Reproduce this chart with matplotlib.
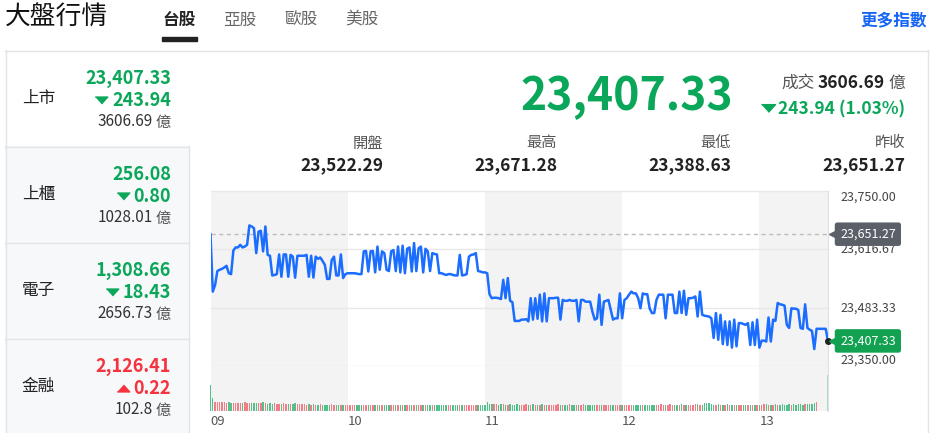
import matplotlib
matplotlib.use('Agg')
import matplotlib.pyplot as plt
from matplotlib.patches import Rectangle
from matplotlib.lines import Line2D
import numpy as np

plt.rcParams['font.family'] = ['Noto Sans CJK TC', 'DejaVu Sans']

# ---------------- data ----------------
prev_close = 23651.27
last_price = 23407.33
open_price = 23522.29
high_price = 23671.28
low_price = 23388.63
change = 243.94
change_pct = 1.03
turnover = 3606.69

stat_labels = ['開盤', '最高', '最低', '昨收']
stat_values = [open_price, high_price, low_price, prev_close]

board_names = ['上市', '上櫃', '電子', '金融']
board_values = [23407.33, 256.08, 1308.66, 2126.41]
board_changes = [243.94, 0.80, 18.43, 0.22]
board_dirs = [-1, -1, -1, 1]
board_amounts = [3606.69, 1028.01, 2656.73, 102.8]

tabs = ['台股', '亞股', '歐股', '美股']

minutes = list(range(271))
prices = [
    23651, 23520, 23535, 23567, 23570, 23572, 23575, 23579, 23562, 23560,
    23614, 23621, 23621, 23627, 23621, 23623, 23627, 23671.28, 23669, 23665,
    23608, 23657, 23659, 23612, 23669, 23604, 23602, 23557, 23558, 23560,
    23605, 23554, 23605, 23605, 23554, 23604, 23600, 23552, 23602, 23602,
    23602, 23602, 23604, 23554, 23602, 23552, 23600, 23595, 23598, 23590,
    23581, 23549, 23549, 23592, 23600, 23557, 23557, 23605, 23551, 23560,
    23562, 23562, 23562, 23562, 23561, 23560, 23560, 23612, 23613, 23566,
    23612, 23613, 23564, 23623, 23570, 23612, 23608, 23570, 23567, 23612,
    23615, 23567, 23623, 23564, 23625, 23562, 23618, 23621, 23566, 23631,
    23567, 23619, 23623, 23564, 23618, 23612, 23567, 23608, 23606, 23605,
    23562, 23562, 23560, 23558, 23560, 23560, 23558, 23557, 23557, 23604,
    23557, 23558, 23560, 23600, 23604, 23605, 23608, 23567, 23566, 23564,
    23564, 23562, 23514, 23505, 23506, 23506, 23505, 23503, 23547, 23505,
    23551, 23499, 23496, 23453, 23453, 23453, 23456, 23456, 23457, 23452,
    23505, 23456, 23505, 23458, 23513, 23452, 23516, 23452, 23505, 23505,
    23505, 23506, 23506, 23456, 23501, 23499, 23499, 23501, 23499, 23499,
    23501, 23452, 23501, 23501, 23497, 23497, 23497, 23474, 23456, 23459,
    23513, 23444, 23497, 23499, 23501, 23478, 23456, 23459, 23459, 23516,
    23459, 23501, 23505, 23513, 23520, 23516, 23516, 23505, 23482, 23516,
    23514, 23514, 23482, 23471, 23471, 23501, 23513, 23513, 23513, 23459,
    23513, 23513, 23513, 23471, 23471, 23520, 23471, 23522, 23467, 23505,
    23505, 23506, 23509, 23463, 23520, 23467, 23465, 23464, 23463, 23459,
    23414, 23471, 23410, 23467, 23400, 23452, 23398, 23452, 23392, 23456,
    23395, 23448, 23448, 23446, 23444, 23448, 23398, 23450, 23398, 23456,
    23392, 23408, 23408, 23406, 23461, 23406, 23456, 23453, 23494, 23491,
    23490, 23488, 23444, 23437, 23482, 23481, 23481, 23478, 23437, 23435,
    23491, 23437, 23433, 23430, 23388.63, 23435, 23435, 23435, 23435, 23435,
    23407.33,
]
volumes = [
    52, 26, 18, 18, 17, 17, 17, 16, 17, 16,
    16, 15, 16, 16, 15, 17, 16, 15, 16, 15,
    15, 16, 15, 17, 16, 14, 15, 14, 15, 14,
    14, 13, 15, 14, 14, 13, 14, 15, 13, 14,
    13, 13, 12, 13, 12, 13, 12, 12, 13, 12,
    11, 12, 12, 13, 12, 11, 12, 12, 11, 12,
    11, 12, 11, 12, 11, 11, 12, 11, 12, 11,
    11, 12, 11, 11, 12, 11, 11, 12, 11, 11,
    12, 11, 11, 12, 11, 11, 12, 11, 11, 12,
    11, 12, 11, 11, 12, 11, 11, 12, 11, 11,
    12, 11, 11, 11, 12, 11, 11, 12, 11, 11,
    11, 12, 11, 11, 12, 11, 11, 11, 11, 11,
    12, 17, 13, 13, 14, 13, 12, 13, 13, 12,
    12, 13, 12, 12, 13, 12, 12, 12, 13, 12,
    12, 13, 12, 12, 12, 13, 12, 12, 12, 12,
    12, 12, 13, 12, 12, 12, 12, 13, 12, 12,
    12, 12, 12, 13, 12, 12, 12, 12, 12, 12,
    11, 12, 12, 12, 11, 12, 12, 12, 11, 12,
    12, 11, 12, 12, 11, 12, 12, 11, 12, 12,
    11, 12, 12, 11, 12, 12, 12, 13, 12, 12,
    12, 13, 12, 12, 12, 12, 13, 12, 12, 12,
    12, 12, 13, 13, 12, 12, 16, 16, 15, 13,
    12, 12, 13, 12, 12, 12, 13, 12, 12, 12,
    12, 11, 12, 12, 12, 11, 12, 12, 12, 12,
    12, 12, 13, 13, 12, 12, 12, 13, 12, 12,
    13, 12, 12, 13, 12, 13, 12, 13, 13, 12,
    13, 13, 14, 14, 15, 17, 0, 0, 0, 0,
    72,
]
y_ticks = [23350.00, 23483.33, 23616.67, 23750.00]
x_tick_pos = [0, 60, 120, 180, 240]
x_tick_labels = ['09', '10', '11', '12', '13']

# ---------------- style ----------------
GREEN = '#0aa65a'
RED = '#f5333f'
BLUE = '#1a6dff'
DARK = '#222222'
GRAY = '#555555'
BORDER = '#e2e4e9'

W, H = 931, 433
fig = plt.figure(figsize=(W / 100, H / 100), dpi=100)
renderer = fig.canvas.get_renderer()


def X(x):
    return x / W


def Y(y):
    return 1 - y / H


def hline(x0, x1, y, color=BORDER, lw=1.0):
    fig.add_artist(Line2D([X(x0), X(x1)], [Y(y), Y(y)], color=color, lw=lw,
                          transform=fig.transFigure))


def vline(x, y0, y1, color=BORDER, lw=1.0):
    fig.add_artist(Line2D([X(x), X(x)], [Y(y0), Y(y1)], color=color, lw=lw,
                          transform=fig.transFigure))


def runs_right(x_right, y, runs):
    """runs: list of (text, kwargs, gap_px_before); drawn right-aligned."""
    x = x_right
    for txt, kw, gap in reversed(runs):
        t = fig.text(X(x), Y(y), txt, ha='right', va='center', **kw)
        x -= t.get_window_extent(renderer).width + gap
    return x


def tri(xc, y, up, color, w_px=12, h_ratio=0.55):
    if up:
        verts = [(-1, -h_ratio), (1, -h_ratio), (0, h_ratio)]
    else:
        verts = [(-1, h_ratio), (1, h_ratio), (0, -h_ratio)]
    fig.add_artist(Line2D([X(xc)], [Y(y)], marker=verts, ms=w_px * 0.72,
                          color=color, ls='none', transform=fig.transFigure))


# ---------------- header ----------------
fig.text(X(5), Y(18), '大盤行情', fontsize=18.5, color='#111111',
         ha='left', va='center', fontweight='medium')
tab_centers = [179, 240, 301, 362]
for i, (tb, cx) in enumerate(zip(tabs, tab_centers)):
    fig.text(X(cx), Y(20), tb, fontsize=12, ha='center', va='center',
             color=DARK if i == 0 else '#666666',
             fontweight='bold' if i == 0 else 'normal')
fig.add_artist(Rectangle((X(162), Y(40.5)), X(197) - X(162), 3 / H,
                         color=DARK, transform=fig.transFigure))
fig.text(X(927), Y(20), '更多指數', fontsize=12, ha='right', va='center',
         color='#1565f5', fontweight='bold')

# ---------------- frame ----------------
fig.add_artist(Rectangle((X(5), Y(433)), X(188) - X(5), (433 - 146) / H,
                         color='#f7f8fa', transform=fig.transFigure, zorder=0))
hline(5, 928, 50.5)
vline(5.5, 50, 433)
vline(927.5, 50, 433)
hline(5, 188, 146.5)
vline(188.5, 146, 433)
hline(5, 188, 242.5)
hline(5, 188, 338.5)

# ---------------- left boards ----------------
card_tops = [50, 146, 242, 338]
for name, val, chg, d, amt, top in zip(board_names, board_values, board_changes,
                                       board_dirs, board_amounts, card_tops):
    col = GREEN if d < 0 else RED
    fig.text(X(22), Y(top + 48), name, fontsize=12, color=DARK,
             ha='left', va='center')
    fig.text(X(171), Y(top + 28), f'{val:,.2f}', fontsize=13, color=col,
             fontweight='bold', ha='right', va='center')
    t = fig.text(X(171), Y(top + 51), f'{chg:.2f}', fontsize=13, color=col,
                 fontweight='bold', ha='right', va='center')
    left = 171 - t.get_window_extent(renderer).width
    tri(left - 11, top + 50, d > 0, col, w_px=12.5)
    runs_right(171, top + 72, [(str(amt), dict(fontsize=11, color='#333333'), 0),
                               ('億', dict(fontsize=11, color=GRAY), 3)])

# ---------------- main quote ----------------
fig.text(X(733), Y(97), f'{last_price:,.2f}', fontsize=32, color=GREEN,
         fontweight='bold', ha='right', va='center')
runs_right(905, 83, [('成交', dict(fontsize=12, color=GRAY), 0),
                     (f'{turnover:.2f}', dict(fontsize=12.5, color=DARK, fontweight='bold'), 3),
                     ('億', dict(fontsize=12, color=GRAY), 4)])
tleft = runs_right(905, 109, [(f'{change:.2f} ({change_pct:.2f}%)',
                               dict(fontsize=12.5, color=GREEN, fontweight='bold'), 0)])
tri(tleft - 10, 108, False, GREEN, w_px=14)

stat_right = [383, 557, 731, 905]
for lab, val, xr in zip(stat_labels, stat_values, stat_right):
    fig.text(X(xr), Y(143), lab, fontsize=11, color=GRAY, ha='right', va='center')
    fig.text(X(xr), Y(165), f'{val:,.2f}', fontsize=12.5, color=DARK,
             fontweight='bold', ha='right', va='center')

# ---------------- chart ----------------
x0, x1 = 210.5, 828
yt, ym, yb = 191, 366, 410.7
ax = fig.add_axes([X(x0), Y(ym), (x1 - x0) / W, (ym - yt) / H])
axv = fig.add_axes([X(x0), Y(yb), (x1 - x0) / W, (yb - ym) / H])

for a in (ax, axv):
    a.set_xlim(0, 270)
    a.set_facecolor('white')
    for h in (0, 120, 240):
        a.axvspan(h, min(h + 60, 270), color='#f3f3f3', lw=0, zorder=0)
    for s in a.spines.values():
        s.set_visible(False)
    a.spines['right'].set_visible(True)
    a.spines['right'].set_color('#dde0e6')
    a.set_xticks([])
    a.set_yticks([])

ax.set_ylim(y_ticks[0], y_ticks[-1])
for v in y_ticks:
    ax.axhline(v, color='#e8e8e8', lw=1, zorder=1, clip_on=False)
ax.axhline(prev_close, color='#bdbdbd', lw=1, dashes=(3, 2.5), zorder=2)
ax.plot(minutes, prices, color=BLUE, lw=1.8, zorder=3)
ax.plot([minutes[-1]], [prices[-1]], 'o', color='#222222', ms=4, zorder=6,
        clip_on=False)

# y tick labels on the right
ytr = ax.get_yaxis_transform()
for v in y_ticks:
    dy = 0
    if v == y_ticks[-1]:
        dy = -6
    elif v == y_ticks[0]:
        dy = 6
    ax.annotate(f'{v:,.2f}', xy=(1, v), xycoords=ytr, xytext=(12, dy),
                textcoords='offset pixels', ha='left', va='center', fontsize=9,
                color='#444444', annotation_clip=False, zorder=4)

# price tags
for v, fc in ((prev_close, '#5b6068'), (last_price, '#12a150')):
    ax.annotate(f'{v:,.2f}', xy=(1, v), xycoords=ytr, xytext=(12, 0),
                textcoords='offset pixels', ha='left', va='center', fontsize=9,
                color='white', annotation_clip=False, zorder=8,
                bbox=dict(boxstyle='round,pad=0.42,rounding_size=0.2', fc=fc, ec='none'))
    ax.plot([1.0], [v], marker='<', ms=8, color=fc, ls='none', clip_on=False,
            zorder=7, transform=ytr + matplotlib.transforms.ScaledTranslation(
                7 / 100, 0, fig.dpi_scale_trans))

# volume bars
colors = []
prev = prev_close
for i, p in enumerate(prices):
    if i == len(prices) - 1:
        colors.append('#a9dcc2')
    elif p > prev:
        colors.append('#f47c86')
    elif p < prev:
        colors.append('#52c08b')
    else:
        colors.append(colors[-1] if colors else '#52c08b')
    prev = p
axv.set_ylim(0, 89)
bars = axv.bar(minutes, volumes, width=0.62, color=colors, zorder=2)
for b in bars:
    b.set_clip_on(False)

xtr = axv.get_xaxis_transform()
for pos, lab in zip(x_tick_pos, x_tick_labels):
    axv.annotate(lab, xy=(pos, 0), xycoords=xtr, xytext=(0, -11),
                 textcoords='offset pixels', ha='left', va='center',
                 fontsize=9.5, color='#555555', annotation_clip=False)

fig.savefig('out.png', dpi=100)
